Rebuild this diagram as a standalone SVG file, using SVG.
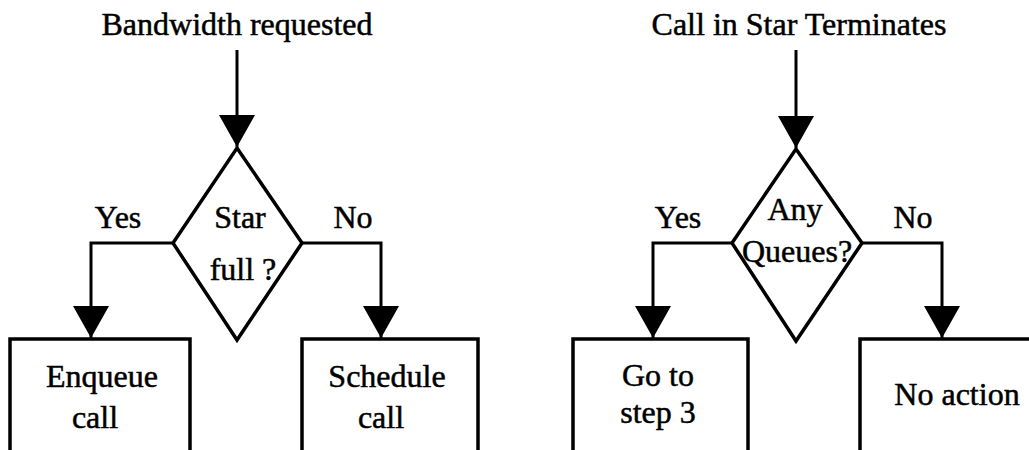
<svg xmlns="http://www.w3.org/2000/svg" width="1029" height="450" viewBox="0 0 1029 450">
<style>
  .t{font-family:"Liberation Serif","Times New Roman",serif;font-size:32px;fill:#000;stroke:#000;stroke-width:0.5;text-anchor:middle}
  .shape{fill:#fff;stroke:#000;stroke-width:3.5;stroke-linejoin:miter}
  .conn{fill:none;stroke:#000;stroke-width:3}
</style>
<defs>
  <marker id="ah" viewBox="0 0 32 36" refX="32" refY="18" markerWidth="32" markerHeight="36" markerUnits="userSpaceOnUse" orient="auto">
    <path d="M0,0 L32,18 L0,36 Z" fill="#000"/>
  </marker>
</defs>
<rect width="1029" height="450" fill="#fff"/>

<g id="title1"><text class="t" x="237" y="35">Bandwidth requested</text></g>
<g id="title2"><text class="t" x="799" y="35">Call in Star Terminates</text></g>

<g id="connectors">
  <path class="conn" d="M237,50 L237,147" marker-end="url(#ah)"/>
  <path class="conn" d="M173,243 L91,243 L91,338" marker-end="url(#ah)"/>
  <path class="conn" d="M302,243 L381,243 L381,338" marker-end="url(#ah)"/>
  <path class="conn" d="M796,50 L796,148" marker-end="url(#ah)"/>
  <path class="conn" d="M732,243 L653,243 L653,338" marker-end="url(#ah)"/>
  <path class="conn" d="M862,243 L942,243 L942,338" marker-end="url(#ah)"/>
</g>

<g id="labels">
  <text class="t" x="118" y="228">Yes</text>
  <text class="t" x="353" y="228">No</text>
  <text class="t" x="678" y="228">Yes</text>
  <text class="t" x="913" y="228">No</text>
</g>

<g id="decision1">
  <polygon class="shape" points="237,148 302,243 237,340 173,243"/>
  <text class="t" x="240" y="228">Star</text>
  <text class="t" x="243" y="280">full ?</text>
</g>
<g id="decision2">
  <polygon class="shape" points="796,149 862,243 796,341 732,243"/>
  <text class="t" x="795" y="220">Any</text>
  <text class="t" x="797" y="262">Queues?</text>
</g>

<g id="enqueue">
  <rect class="shape" x="10" y="339" width="180" height="150"/>
  <text class="t" x="102" y="387">Enqueue</text>
  <text class="t" x="95" y="428">call</text>
</g>
<g id="schedule">
  <rect class="shape" x="302" y="339" width="176" height="150"/>
  <text class="t" x="387" y="387">Schedule</text>
  <text class="t" x="381" y="428">call</text>
</g>
<g id="goto">
  <rect class="shape" x="573" y="339" width="175" height="150"/>
  <text class="t" x="658" y="386">Go to</text>
  <text class="t" x="658" y="423">step 3</text>
</g>
<g id="noaction">
  <rect class="shape" x="860" y="339" width="200" height="150"/>
  <text class="t" x="957" y="405">No action</text>
</g>
</svg>
